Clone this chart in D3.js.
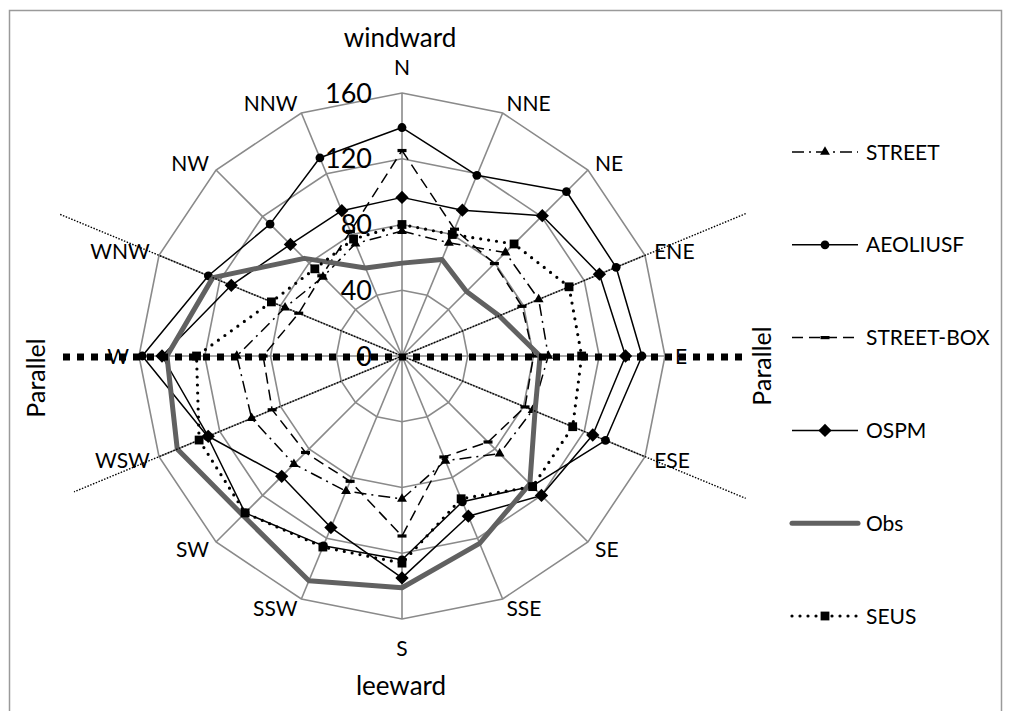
<!DOCTYPE html>
<html><head><meta charset="utf-8">
<script src="https://cdn.jsdelivr.net/npm/d3@7"></script>
<style>body{margin:0;background:#fff}svg{display:block}text{font-family:Lato,"Open Sans",sans-serif;fill:#000}</style>
</head><body><svg id="c" width="1011" height="711"></svg>
<script>
const directions = ["N","NNE","NE","ENE","E","ESE","SE","SSE","S","SSW","SW","WSW","W","WNW","NW","NNW"];
const tickValues = [0,40,80,120,160];
const seriesNames = ["STREET","AEOLIUSF","STREET-BOX","OSPM","Obs","SEUS"];
const STREET    = [76,74.5,89,90,89,86,84,69,87,89,93,99,100.5,77,68,74];
const AEOLIUSF  = [139,119,141.5,141,146,134,112,96,124,125,135,128,158,127.5,113.5,130.5];
const STREET_BOX= [125,83.5,79.5,79,80,81,74,66.5,109.5,82.5,83,85.5,84.5,68,69,82];
const OSPM      = [96.5,96,120.7,130,136,125.6,120,105.5,135,113,103.5,127.6,146,112.4,96,95.7];
const Obs       = [56.5,63.6,55.5,64,84,87.6,110,123.4,141,148,137,148,143,124.6,84,58];
const SEUS      = [80,80,96.4,110,109.3,112.4,112.4,94,126,125.8,135,133.6,125,86,75,77];
const values = {"STREET":STREET,"AEOLIUSF":AEOLIUSF,"STREET-BOX":STREET_BOX,"OSPM":OSPM,"Obs":Obs,"SEUS":SEUS};

const styles = {
  "STREET":     {stroke:"#000", width:1.5, dash:"12,5,2,5", cap:"butt", marker:"triangle"},
  "AEOLIUSF":   {stroke:"#000", width:1.5, dash:null, cap:"butt", marker:"circle"},
  "STREET-BOX": {stroke:"#000", width:1.5, dash:"11,6", cap:"butt", marker:"dash"},
  "OSPM":       {stroke:"#000", width:1.5, dash:null, cap:"butt", marker:"diamond"},
  "Obs":        {stroke:"#616161", width:5, dash:null, cap:"round", marker:null},
  "SEUS":       {stroke:"#000", width:3.2, dash:"0,8", cap:"round", marker:"square"}
};

const svg = d3.select("#c");
const cx = 402, cy = 356, R = 263;
const gridColor = "#8a8a8a";

svg.append("rect").attr("x",9.5).attr("y",10.5).attr("width",992).attr("height",720)
  .attr("fill","none").attr("stroke","#9a9a9a").attr("stroke-width",1.5);

const r = d3.scaleLinear().domain([0,160]).range([0,R]);
const ang = d3.scaleLinear().domain([0,directions.length]).range([0,2*Math.PI]);
const g = svg.append("g").attr("transform",`translate(${cx},${cy})`);

const ringLine = d3.lineRadial().angle((d,i)=>ang(i)).radius(d=>r(d)).curve(d3.curveLinearClosed);
tickValues.filter(v=>v>0).forEach(v=>{
  g.append("path").attr("d",ringLine(directions.map(()=>v)))
    .attr("fill","none").attr("stroke",gridColor).attr("stroke-width",1.6);
});
directions.forEach((d,i)=>{
  const a = ang(i);
  g.append("line").attr("x1",0).attr("y1",0)
    .attr("x2",r(160)*Math.sin(a)).attr("y2",-r(160)*Math.cos(a))
    .attr("stroke",gridColor).attr("stroke-width",1.6);
});

tickValues.forEach(v=>{
  g.append("text").attr("x",-30).attr("y",-r(v)+0.36*27).attr("text-anchor","end")
    .attr("font-size",27).text(v);
});

const lfs = 21;
directions.forEach((d,i)=>{
  const a = ang(i), s = Math.sin(a), c = Math.cos(a);
  const ra = R + 10;
  let x = ra*s, y = -ra*c, anchor = "middle";
  if (s > 0.01) anchor = "start";
  else if (s < -0.01) anchor = "end";
  else y += (c > 0 ? -16 : 19);
  g.append("text").attr("x",x).attr("y",y+0.36*lfs).attr("text-anchor",anchor)
    .attr("font-size",lfs).text(d);
});

function drawMarker(sel, type, x, y){
  if(type==="triangle"){
    sel.append("path").attr("d",d3.symbol(d3.symbolTriangle,42)()).attr("transform",`translate(${x},${y})`).attr("fill","#000");
  } else if(type==="circle"){
    sel.append("circle").attr("cx",x).attr("cy",y).attr("r",4.4).attr("fill","#000");
  } else if(type==="diamond"){
    sel.append("path").attr("d",d3.symbol(d3.symbolSquare,88)()).attr("transform",`translate(${x},${y}) rotate(45)`).attr("fill","#000");
  } else if(type==="square"){
    sel.append("rect").attr("x",x-4.4).attr("y",y-4.4).attr("width",8.8).attr("height",8.8).attr("fill","#000");
  } else if(type==="dash"){
    sel.append("rect").attr("x",x-4.5).attr("y",y-1.6).attr("width",9).attr("height",3.2).attr("fill","#000");
  }
}

const line = d3.lineRadial().angle((d,i)=>ang(i)).radius(d=>r(d)).curve(d3.curveLinearClosed);
seriesNames.forEach(name=>{
  const st = styles[name], vals = values[name];
  g.append("path").attr("d",line(vals)).attr("fill","none")
    .attr("stroke",st.stroke).attr("stroke-width",st.width)
    .attr("stroke-dasharray",st.dash).attr("stroke-linecap",st.cap).attr("stroke-linejoin","round");
  if(st.marker){
    vals.forEach((v,i)=>{
      const a = ang(i);
      drawMarker(g, st.marker, r(v)*Math.sin(a), -r(v)*Math.cos(a));
    });
  }
});

const ov = svg.append("g");
const diag = (idx, len1, len2)=>{
  const a = ang(idx);
  const dx = Math.sin(a), dy = -Math.cos(a);
  ov.append("line").attr("x1",cx+dx*len1).attr("y1",cy+dy*len1)
    .attr("x2",cx-dx*len2).attr("y2",cy-dy*len2)
    .attr("stroke","#000").attr("stroke-width",1.4).attr("stroke-dasharray","1.5,1.5");
};
diag(directions.indexOf("WNW"), 370, 372);
diag(directions.indexOf("ENE"), 372, 355);
ov.append("line").attr("x1",63).attr("y1",cy+1).attr("x2",748).attr("y2",cy+1)
  .attr("stroke","#000").attr("stroke-width",7).attr("stroke-dasharray","7,7");

svg.append("text").attr("x",400).attr("y",47).attr("text-anchor","middle").attr("font-size",26).text("windward");
svg.append("text").attr("x",401).attr("y",695).attr("text-anchor","middle").attr("font-size",26).text("leeward");
svg.append("text").attr("transform","translate(45,378) rotate(-90)").attr("text-anchor","middle").attr("font-size",25).text("Parallel");
svg.append("text").attr("transform","translate(771,366) rotate(-90)").attr("text-anchor","middle").attr("font-size",25).text("Parallel");

const ly = d3.scalePoint().domain(seriesNames).range([152,616]);
const lg = svg.append("g");
seriesNames.forEach(name=>{
  const st = styles[name], y = ly(name);
  lg.append("line").attr("x1",792).attr("x2",858).attr("y1",y).attr("y2",y)
    .attr("stroke",st.stroke).attr("stroke-width",st.width)
    .attr("stroke-dasharray",st.dash).attr("stroke-linecap",st.cap);
  if(st.marker) drawMarker(lg, st.marker, 825, y);
  lg.append("text").attr("x",866).attr("y",y+0.36*lfs).attr("font-size",lfs).text(name);
});
</script></body></html>
